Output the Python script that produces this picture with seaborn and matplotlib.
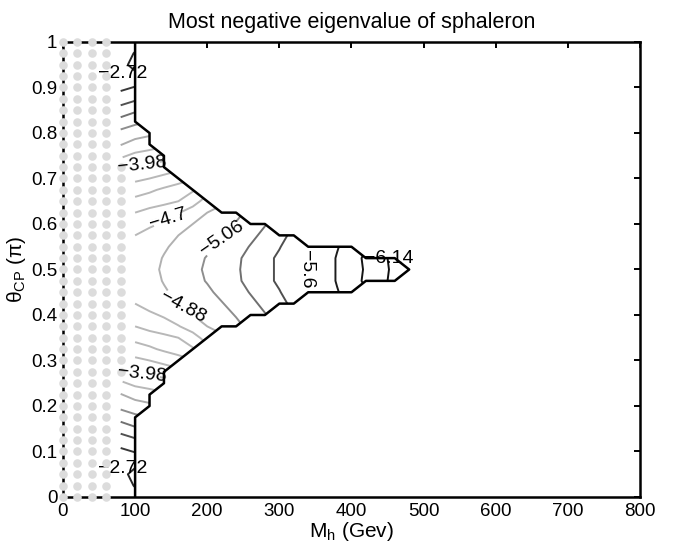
import numpy as np
import matplotlib
matplotlib.use('Agg')
import matplotlib.pyplot as plt
import seaborn as sns

# contour levels (step 0.18) used in the original plot
levels = [-6.14, -5.96, -5.78, -5.60, -5.42, -5.24, -5.06, -4.88, -4.70, -4.52,
          -4.34, -4.16, -3.98, -3.80, -3.62, -3.44, -3.26, -3.08, -2.90, -2.72]

# eigenvalue, upper half theta = 0.5 ... 1.0 (step 0.025)
# each row starts at eig_start (Gev) and goes in steps of 20 Gev
eig_start = [100, 100, 100, 100, 100, 100, 100, 100, 100, 100,
             80, 80, 80, 80, 80, 80, 80, 80, 80, 80, 80]
eig_rows = [
    [-4.78, -4.84, -4.90, -4.95, -5.01, -5.09, -5.16, -5.22, -5.29, -5.37,
     -5.45, -5.52, -5.61, -5.70, -5.79, -5.88, -5.98, -6.08, -6.18, -6.25],
    [-4.76, -4.82, -4.89, -4.95, -5.01, -5.07, -5.14, -5.21, -5.29, -5.37,
     -5.45, -5.53, -5.62, -5.70, -5.79, -5.89, -5.99, -6.09, -6.19],
    [-4.73, -4.79, -4.86, -4.92, -4.97, -5.03, -5.10, -5.17, -5.25, -5.33,
     -5.41, -5.51, -5.60, -5.68, -5.77, -5.85],
    [-4.70, -4.76, -4.82, -4.88, -4.94, -4.99, -5.05, -5.12, -5.20, -5.28, -5.37, -5.46],
    [-4.62, -4.67, -4.72, -4.80, -4.88, -4.94, -5.00, -5.07, -5.15, -5.23],
    [-4.52, -4.58, -4.63, -4.69, -4.78, -4.88, -4.95, -5.02],
    [-4.39, -4.43, -4.47, -4.52, -4.63, -4.77],
    [-4.26, -4.31, -4.37, -4.43, -4.50],
    [-4.12, -4.16, -4.21, -4.26],
    [-3.99, -4.02, -4.06],
    [-3.77, -3.84, -3.87, -3.91],
    [-3.61, -3.69, -3.73],
    [-3.49, -3.54, -3.58],
    [-3.33, -3.40],
    [-3.15, -3.23],
    [-2.99, -3.05],
    [-2.86, -2.91],
    [-2.84, -2.77],
    [-2.78, -2.66],
    [-2.80, -2.71],
    [-2.82, -2.78],
]

# edge of the region where a sphaleron was found
bound_mh = [100, 100, 120, 120, 140, 140, 220, 240, 260, 280, 300, 320, 340, 400, 420, 460, 480,
            460, 420, 400, 340, 320, 300, 280, 260, 240, 220, 140, 140, 120, 120, 100, 100]
bound_theta = [1, 0.825, 0.8, 0.775, 0.75, 0.725, 0.625, 0.625, 0.6, 0.6, 0.575, 0.575, 0.55, 0.55,
               0.525, 0.525, 0.5, 0.475, 0.475, 0.45, 0.45, 0.425, 0.425, 0.4, 0.4, 0.375, 0.375,
               0.275, 0.25, 0.225, 0.2, 0.175, 0]

# labelled levels and where the labels sit
label_levels = [-5.60, -5.06, -4.88, -4.70, -3.98]
label_pos = [(110, 0.726), (146, 0.607), (167, 0.425), (220, 0.568), (338, 0.5), (110, 0.274)]

# scan grid, the lower half is the mirror of the upper half
mh = np.arange(0, 481, 20)
theta = np.round(np.arange(0, 1.0001, 0.025), 3)
eig = np.full((len(theta), len(mh)), np.nan)
for k in range(len(eig_rows)):
    j0 = list(mh).index(eig_start[k])
    vals = eig_rows[k]
    eig[20 + k, j0:j0 + len(vals)] = vals
    eig[20 - k, j0:j0 + len(vals)] = vals

sns.set_style('white')
plt.rcParams['font.family'] = ['Liberation Sans', 'DejaVu Sans']
plt.rcParams['mathtext.default'] = 'regular'
for key in ['text.color', 'axes.labelcolor', 'xtick.color', 'ytick.color']:
    plt.rcParams[key] = 'k'

fig = plt.figure(figsize=(6.83, 5.44), dpi=100)
ax = fig.add_axes([0.0922, 0.0864, 0.8448, 0.8364])

# grey tone of the jet colormap, as on a b/w print
jet = plt.get_cmap('jet')


def grey(v):
    r, g, b, _ = jet((v - levels[0]) / (levels[-1] - levels[0]))
    lum = 0.299 * r + 0.587 * g + 0.114 * b
    return str(round(min(lum, 0.72), 3))


plain = [v for v in levels if v not in label_levels]
ax.contour(mh, theta, eig, levels=plain, colors=[grey(v) for v in plain], linewidths=1.4)
cs = ax.contour(mh, theta, eig, levels=label_levels,
                colors=[grey(v) for v in label_levels], linewidths=1.4)
ax.clabel(cs, manual=label_pos, inline=True, fontsize=14, colors='k',
          fmt=lambda v: ('%g' % v).replace('-', '\u2212'))
ax.text(83, 0.931, '\u22122.72', fontsize=14, ha='center', va='center')
ax.text(83, 0.062, '\u22122.72', fontsize=14, ha='center', va='center')
ax.text(452, 0.524, '\u22126.14', fontsize=14, ha='center', va='center')

sns.lineplot(x=bound_mh, y=bound_theta, sort=False, estimator=None, color='k',
             linewidth=1.8, ax=ax)

# points without data
X, Y = np.meshgrid(mh, theta)
miss = np.isnan(eig) & (X <= 80)
dots = sns.scatterplot(x=X[miss], y=Y[miss], s=38, color='#dcdcdc', linewidth=0, ax=ax)
dots.collections[-1].set_clip_on(False)
dots.collections[-1].set_zorder(3)

ax.set_xlim(0, 800)
ax.set_ylim(0, 1)
ax.set_xticks(range(0, 801, 100))
ax.set_yticks([i / 10 for i in range(11)])
ax.set_yticklabels(['0'] + ['%.1f' % (i / 10) for i in range(1, 10)] + ['1'])
ax.tick_params(direction='in', top=True, right=True, length=4, width=1.4,
               labelsize=13.5, pad=4)
for s in ax.spines.values():
    s.set_linewidth(1.8)
    s.set_color('k')

ax.set_xlabel('M$_{h}$ (Gev)', fontsize=15, labelpad=0)
ax.set_ylabel('\u03b8$_{CP}$ (\u03c0)', fontsize=15, labelpad=2)
ax.set_title('Most negative eigenvalue of sphaleron', fontsize=15.5, pad=10)

fig.savefig('out.png', dpi=100)
